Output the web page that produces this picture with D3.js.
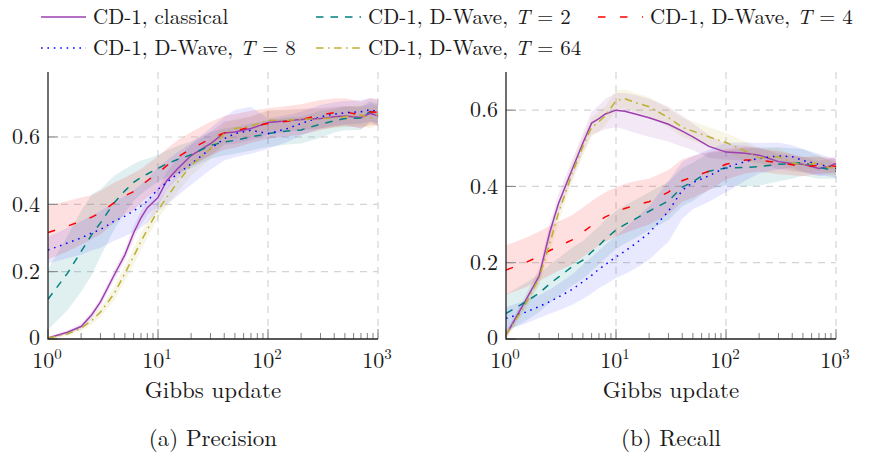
<!DOCTYPE html>
<html>
<head>
<meta charset="utf-8">
<script src="https://cdn.jsdelivr.net/npm/d3@7/dist/d3.min.js"></script>
<style>
  body { margin: 0; background: #fff; }
  svg text { font-family: "Latin Modern Roman", "CMU Serif", "Liberation Serif", "DejaVu Serif", "Noto Serif", Tinos, "Times New Roman", "Nimbus Roman", FreeSerif, serif; fill: #1a1a1a; }
</style>
</head>
<body>
<svg id="chart" width="870" height="457"></svg>
<script>
// Gibbs update steps shared by all curves
const steps = [1, 1.5, 2, 2.5, 3, 4, 5, 6, 7, 8, 10, 12, 15, 20, 30, 40, 50, 70, 100, 150, 200, 300, 400, 500, 700, 850, 1000];

// (a) Precision — means
const precClassical = [0.003, 0.02, 0.037, 0.072, 0.11, 0.19, 0.25, 0.315, 0.36, 0.39, 0.42, 0.47, 0.505, 0.545, 0.58, 0.612, 0.615, 0.625, 0.643, 0.648, 0.652, 0.655, 0.66, 0.662, 0.658, 0.67, 0.663];
const precT2 = [0.118, 0.195, 0.26, 0.31, 0.345, 0.405, 0.44, 0.465, 0.48, 0.49, 0.507, 0.52, 0.533, 0.547, 0.575, 0.585, 0.59, 0.6, 0.61, 0.618, 0.621, 0.638, 0.648, 0.655, 0.656, 0.676, 0.668];
const precT4 = [0.316, 0.335, 0.35, 0.362, 0.375, 0.405, 0.425, 0.438, 0.455, 0.47, 0.492, 0.515, 0.54, 0.565, 0.595, 0.612, 0.618, 0.63, 0.64, 0.647, 0.652, 0.665, 0.672, 0.675, 0.665, 0.675, 0.673];
const precT8 = [0.264, 0.285, 0.3, 0.315, 0.325, 0.35, 0.365, 0.38, 0.395, 0.41, 0.445, 0.465, 0.49, 0.52, 0.565, 0.595, 0.61, 0.62, 0.61, 0.625, 0.64, 0.66, 0.668, 0.672, 0.675, 0.681, 0.675];
const precT64 = [0.003, 0.015, 0.032, 0.055, 0.08, 0.135, 0.195, 0.245, 0.29, 0.325, 0.383, 0.42, 0.465, 0.515, 0.565, 0.61, 0.625, 0.632, 0.65, 0.65, 0.652, 0.654, 0.657, 0.66, 0.665, 0.655, 0.668];

// (a) Precision — spread of the shaded band
const precClassicalSd = [0.004, 0.006, 0.008, 0.01, 0.012, 0.015, 0.017, 0.02, 0.02, 0.022, 0.025, 0.027, 0.03, 0.032, 0.035, 0.035, 0.035, 0.035, 0.035, 0.033, 0.032, 0.03, 0.03, 0.03, 0.03, 0.03, 0.03];
const precT2Sd = [0.09, 0.11, 0.12, 0.12, 0.1, 0.08, 0.065, 0.055, 0.05, 0.045, 0.04, 0.04, 0.04, 0.04, 0.04, 0.04, 0.04, 0.04, 0.04, 0.04, 0.04, 0.04, 0.035, 0.035, 0.035, 0.03, 0.03];
const precT4Sd = [0.08, 0.075, 0.07, 0.065, 0.065, 0.06, 0.055, 0.055, 0.05, 0.05, 0.05, 0.05, 0.05, 0.05, 0.05, 0.05, 0.05, 0.048, 0.045, 0.045, 0.045, 0.045, 0.042, 0.04, 0.04, 0.04, 0.04];
const precT8Sd = [0.04, 0.045, 0.05, 0.052, 0.055, 0.058, 0.06, 0.062, 0.064, 0.065, 0.065, 0.065, 0.065, 0.062, 0.062, 0.065, 0.07, 0.07, 0.045, 0.04, 0.035, 0.035, 0.035, 0.035, 0.035, 0.035, 0.035];
const precT64Sd = [0.004, 0.006, 0.008, 0.012, 0.015, 0.02, 0.022, 0.025, 0.025, 0.025, 0.025, 0.027, 0.03, 0.03, 0.03, 0.03, 0.03, 0.03, 0.03, 0.03, 0.03, 0.03, 0.03, 0.03, 0.03, 0.03, 0.03];

// (b) Recall — means
const recClassical = [0.01, 0.1, 0.165, 0.28, 0.355, 0.445, 0.514, 0.566, 0.578, 0.59, 0.6, 0.597, 0.59, 0.58, 0.563, 0.545, 0.53, 0.505, 0.49, 0.487, 0.482, 0.465, 0.46, 0.458, 0.447, 0.452, 0.46];
const recT2 = [0.067, 0.097, 0.12, 0.145, 0.162, 0.19, 0.207, 0.228, 0.245, 0.262, 0.286, 0.3, 0.315, 0.335, 0.362, 0.398, 0.412, 0.44, 0.448, 0.45, 0.452, 0.458, 0.46, 0.463, 0.45, 0.445, 0.44];
const recT4 = [0.181, 0.2, 0.217, 0.232, 0.243, 0.26, 0.28, 0.297, 0.31, 0.32, 0.333, 0.342, 0.351, 0.36, 0.385, 0.415, 0.425, 0.44, 0.458, 0.469, 0.469, 0.462, 0.457, 0.452, 0.455, 0.456, 0.452];
const recT8 = [0.054, 0.07, 0.085, 0.098, 0.11, 0.13, 0.15, 0.167, 0.183, 0.195, 0.215, 0.23, 0.25, 0.278, 0.335, 0.39, 0.41, 0.428, 0.45, 0.465, 0.474, 0.48, 0.478, 0.468, 0.458, 0.452, 0.447];
const recT64 = [0.01, 0.09, 0.16, 0.25, 0.33, 0.435, 0.505, 0.555, 0.57, 0.585, 0.625, 0.63, 0.62, 0.609, 0.58, 0.555, 0.545, 0.53, 0.515, 0.493, 0.475, 0.478, 0.462, 0.456, 0.462, 0.45, 0.447];

// (b) Recall — spread of the shaded band
const recClassicalSd = [0.01, 0.015, 0.02, 0.022, 0.025, 0.025, 0.025, 0.03, 0.035, 0.04, 0.045, 0.048, 0.05, 0.05, 0.046, 0.04, 0.035, 0.03, 0.02, 0.02, 0.02, 0.02, 0.02, 0.02, 0.02, 0.02, 0.02];
const recT2Sd = [0.05, 0.05, 0.05, 0.05, 0.05, 0.05, 0.05, 0.05, 0.05, 0.05, 0.05, 0.05, 0.05, 0.05, 0.05, 0.05, 0.05, 0.048, 0.045, 0.05, 0.05, 0.045, 0.04, 0.035, 0.03, 0.025, 0.02];
const recT4Sd = [0.065, 0.065, 0.065, 0.065, 0.065, 0.065, 0.065, 0.065, 0.065, 0.065, 0.065, 0.065, 0.063, 0.06, 0.058, 0.056, 0.055, 0.05, 0.04, 0.035, 0.03, 0.03, 0.028, 0.025, 0.022, 0.02, 0.02];
const recT8Sd = [0.03, 0.03, 0.03, 0.032, 0.035, 0.04, 0.045, 0.048, 0.05, 0.052, 0.055, 0.06, 0.065, 0.07, 0.08, 0.075, 0.07, 0.068, 0.065, 0.05, 0.04, 0.035, 0.03, 0.03, 0.028, 0.025, 0.025];
const recT64Sd = [0.01, 0.015, 0.02, 0.022, 0.025, 0.025, 0.025, 0.025, 0.025, 0.025, 0.025, 0.025, 0.025, 0.025, 0.025, 0.025, 0.025, 0.025, 0.025, 0.025, 0.025, 0.022, 0.02, 0.02, 0.02, 0.02, 0.02];

const yTicks = [0, 0.2, 0.4, 0.6];
const xDecades = [1, 10, 100, 1000];

const styles = [
    { name: "classical", T: null, color: "#9d3fb1", dash: null },
    { name: "D-Wave", T: "2", color: "#008080", dash: "7.5,7" },
    { name: "D-Wave", T: "4", color: "#ff0000", dash: "7.5,14.5" },
    { name: "D-Wave", T: "8", color: "#0000ff", dash: "1.6,4.8" },
    { name: "D-Wave", T: "64", color: "#bdb030", dash: "7.5,4.5,1.6,4.5" }
];

const svg = d3.select("#chart");

function drawPanel(opts) {
    const x = d3.scaleLog().domain([1, 1000]).range([opts.x0, opts.x1]);
    const y = d3.scaleLinear().domain([0, opts.ymax]).range([339, 72]);
    const g = svg.append("g");

    const clipId = "clip-" + opts.id;
    svg.append("clipPath").attr("id", clipId)
        .append("rect")
        .attr("x", opts.x0).attr("y", 72)
        .attr("width", opts.x1 - opts.x0).attr("height", 339 - 72);

    // grid
    g.selectAll(".gx").data(xDecades.slice(1)).enter().append("line")
        .attr("x1", d => x(d)).attr("x2", d => x(d))
        .attr("y1", 72).attr("y2", 339)
        .attr("stroke", "#d4d4d4").attr("stroke-width", 1.2)
        .attr("stroke-dasharray", "7,6");
    g.selectAll(".gy").data(yTicks.slice(1)).enter().append("line")
        .attr("x1", opts.x0).attr("x2", opts.x1)
        .attr("y1", d => y(d)).attr("y2", d => y(d))
        .attr("stroke", "#d4d4d4").attr("stroke-width", 1.2)
        .attr("stroke-dasharray", "7,6");

    const plot = g.append("g").attr("clip-path", `url(#${clipId})`);

    const area = d3.area()
        .x((d, i) => x(steps[i]))
        .y0((d, i) => y(d.m - d.s))
        .y1((d, i) => y(d.m + d.s));
    const line = d3.line()
        .x((d, i) => x(steps[i]))
        .y(d => y(d));

    styles.forEach((s, k) => {
        const pts = opts.means[k].map((m, i) => ({ m, s: opts.sds[k][i] }));
        plot.append("path").datum(pts)
            .attr("d", area)
            .attr("fill", s.color)
            .attr("fill-opacity", k === 3 ? 0.09 : 0.12);
    });
    styles.forEach((s, k) => {
        plot.append("path").datum(opts.means[k])
            .attr("d", line)
            .attr("fill", "none")
            .attr("stroke", s.color)
            .attr("stroke-width", 1.5)
            .attr("stroke-dasharray", s.dash);
    });

    // minor and major ticks on x (inward)
    const minor = [];
    [1, 10, 100].forEach(dec => { for (let k = 2; k <= 9; k++) minor.push(dec * k); });
    g.selectAll(".mt").data(minor).enter().append("line")
        .attr("x1", d => x(d)).attr("x2", d => x(d))
        .attr("y1", 339).attr("y2", 333)
        .attr("stroke", "#808080").attr("stroke-width", 1);
    g.selectAll(".Mt").data(xDecades).enter().append("line")
        .attr("x1", d => x(d)).attr("x2", d => x(d))
        .attr("y1", 339).attr("y2", 329)
        .attr("stroke", "#808080").attr("stroke-width", 1);
    g.selectAll(".yt").data(yTicks).enter().append("line")
        .attr("x1", opts.x0).attr("x2", opts.x0 + 10)
        .attr("y1", d => y(d)).attr("y2", d => y(d))
        .attr("stroke", "#808080").attr("stroke-width", 1);

    // axis lines (left, bottom)
    g.append("path")
        .attr("d", `M${opts.x0},72V339H${opts.x1}`)
        .attr("fill", "none").attr("stroke", "#222").attr("stroke-width", 1.3);

    // tick labels
    g.selectAll(".yl").data(yTicks).enter().append("text")
        .attr("x", opts.x0 - 8).attr("y", d => y(d) - (d === 0 ? 1 : 0)).attr("dy", "0.33em")
        .attr("text-anchor", "end").attr("font-size", 22)
        .text(d => d === 0 ? "0" : d3.format(".1f")(d));
    const xl = g.selectAll(".xl").data(xDecades).enter().append("text")
        .attr("x", d => x(d) - 1).attr("y", 368)
        .attr("text-anchor", "middle").attr("font-size", 22);
    xl.append("tspan").text("10");
    xl.append("tspan").attr("dy", -9).attr("font-size", 15).text(d => Math.round(Math.log10(d)));

    const cx = (opts.x0 + opts.x1) / 2;
    g.append("text").attr("x", cx).attr("y", 398)
        .attr("text-anchor", "middle").attr("font-size", 23).text("Gibbs update");
    g.append("text").attr("x", cx).attr("y", 446)
        .attr("text-anchor", "middle").attr("font-size", 23).text(opts.caption);
}

drawPanel({
    id: "a", x0: 48, x1: 378, ymax: 0.793, caption: "(a) Precision",
    means: [precClassical, precT2, precT4, precT8, precT64],
    sds: [precClassicalSd, precT2Sd, precT4Sd, precT8Sd, precT64Sd]
});
drawPanel({
    id: "b", x0: 506, x1: 836, ymax: 0.7, caption: "(b) Recall",
    means: [recClassical, recT2, recT4, recT8, recT64],
    sds: [recClassicalSd, recT2Sd, recT4Sd, recT8Sd, recT64Sd]
});

// legend: 3 columns, 2 rows
const legendPos = [
    { x: 41, y: 17 }, { x: 316, y: 17 }, { x: 598, y: 17 },
    { x: 41, y: 48 }, { x: 316, y: 48 }
];
const legend = svg.append("g");
styles.forEach((s, k) => {
    const p = legendPos[k];
    legend.append("line")
        .attr("x1", p.x).attr("x2", p.x + 45)
        .attr("y1", p.y).attr("y2", p.y)
        .attr("stroke", s.color).attr("stroke-width", 1.5)
        .attr("stroke-dasharray", s.dash);
    const t = legend.append("text")
        .attr("x", p.x + 52).attr("y", p.y).attr("dy", "0.33em")
        .attr("font-size", 21);
    if (s.T === null) {
        t.text("CD-1, classical");
    } else {
        t.append("tspan").text("CD-1, D-Wave, ");
        t.append("tspan").attr("font-style", "italic").text("T");
        t.append("tspan").text(" = " + s.T);
    }
});
</script>
</body>
</html>
